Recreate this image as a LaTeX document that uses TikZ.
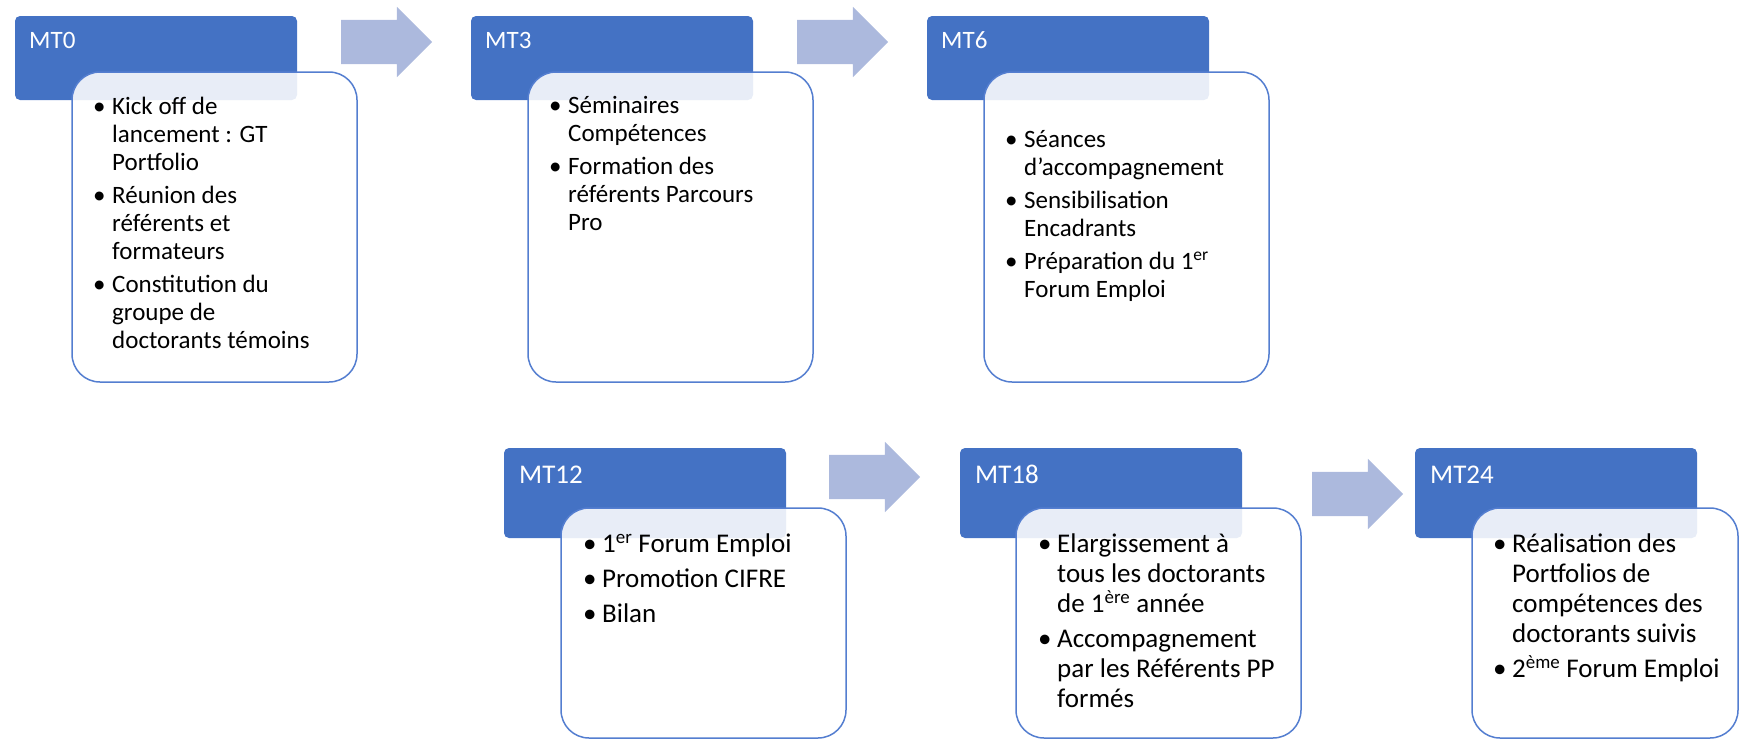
\documentclass[tikz,border=0pt]{standalone}
\usepackage{fontspec}
\setmainfont{Carlito}
\usetikzlibrary{positioning}
\usetikzlibrary{shapes.arrows}
\definecolor{accent}{RGB}{68,114,196}
\definecolor{pale}{RGB}{172,185,221}
\definecolor{edge}{RGB}{84,126,208}
\newcommand{\bul}{\rule{0pt}{22pt}\makebox[19pt][l]{\textbullet}}
\newcommand{\ind}{\hspace*{19pt}}
\tikzset{node distance=174pt, % Gap between two period boxes
phase/.style={ % Dark blue box holding the period
rectangle, rounded corners=5pt,
fill=accent, draw=none,
minimum width=282pt, minimum height=84pt,
anchor=north west, inner sep=0pt, outer sep=0pt},
tall phase/.style={phase, minimum height=90pt},
card/.style={ % White card laid over the period box
rectangle, rounded corners=28pt,
draw=edge, line width=1.5pt,
fill=white, fill opacity=0.88, text opacity=1,
minimum width=285pt, minimum height=310pt,
anchor=north west, inner sep=0pt, outer sep=0pt},
short card/.style={card, minimum height=230pt},
title/.style={text=white, font=\fontsize{25}{28}\selectfont,
anchor=base west, inner sep=0pt},
big title/.style={title, font=\fontsize{27}{30}\selectfont},
tasks/.style={align=left, anchor=north west, inner sep=0pt,
font=\fontsize{25}{28}\selectfont},
big tasks/.style={tasks, font=\fontsize{27}{30}\selectfont},
flow/.style={ % Pale arrow between two periods
single arrow, fill=pale, draw=none,
minimum height=91pt, minimum width=70pt,
inner xsep=0pt, inner ysep=22pt,
single arrow head extend=13pt,
anchor=tail, outer sep=0pt}}
\begin{document}
\begin{tikzpicture}[x=1pt,y=-1pt]
\useasboundingbox (0,0) rectangle (1740,739);
\node[phase] (mt0) at (15,16) {};
\node[phase, right=of mt0] (mt3) {};
\node[phase, right=of mt3] (mt6) {};
\node[tall phase] (mt12) at (504,448) {};
\node[tall phase, right=of mt12] (mt18) {};
\node[tall phase, right=173pt of mt18] (mt24) {};

\node[flow] (a0) at ([xshift=44, yshift=16]mt0.east) {};
\node[flow] (a3) at ([xshift=44, yshift=16]mt3.east) {};
\node[flow] (a12) at ([xshift=43, yshift=16]mt12.east) {};
\node[flow] (a18) at ([xshift=70, yshift=-1]mt18.east) {};

\node[title] (n0) at ([xshift=14, yshift=-32]mt0.north west) {MT0};
\node[title] (n3) at ([xshift=14, yshift=-32]mt3.north west) {MT3};
\node[title] (n6) at ([xshift=14, yshift=-32]mt6.north west) {MT6};
\node[big title] (n12) at ([xshift=15, yshift=-35]mt12.north west) {MT12};
\node[big title] (n18) at ([xshift=15, yshift=-35]mt18.north west) {MT18};
\node[big title] (n24) at ([xshift=15, yshift=-35]mt24.north west) {MT24};

\node[card] (c0) at ([xshift=57, yshift=-56]mt0.north west) {};
\node[card] (c3) at ([xshift=57, yshift=-56]mt3.north west) {};
\node[card] (c6) at ([xshift=57, yshift=-56]mt6.north west) {};
\node[short card] (c12) at ([xshift=57, yshift=-60]mt12.north west) {};
\node[short card] (c18) at ([xshift=56, yshift=-60]mt18.north west) {};
\node[short card, minimum width=266pt] (c24) at ([xshift=57, yshift=-60]mt24.north west) {};

\node[tasks] (t0) at ([xshift=21, yshift=-20]c0.north west)
{\bul Kick off de\\ \ind lancement : GT\\ \ind Portfolio\\[5pt]
\bul Réunion des\\ \ind référents et\\ \ind formateurs\\[5pt]
\bul Constitution du\\ \ind groupe de\\ \ind doctorants témoins};
\node[tasks] (t3) at ([xshift=21, yshift=-19]c3.north west)
{\bul Séminaires\\ \ind Compétences\\[5pt]
\bul Formation des\\ \ind référents Parcours\\ \ind Pro};
\node[tasks] (t6) at ([xshift=21, yshift=-53]c6.north west)
{\bul Séances\\ \ind d’accompagnement\\[5pt]
\bul Sensibilisation\\ \ind Encadrants\\[5pt]
\bul Préparation du 1\textsuperscript{er}\\ \ind Forum Emploi};
\node[big tasks] (t12) at ([xshift=22, yshift=-22]c12.north west)
{\bul 1\textsuperscript{er} Forum Emploi\\[5pt]
\bul Promotion CIFRE\\[5pt]
\bul Bilan};
\node[big tasks] (t18) at ([xshift=22, yshift=-22]c18.north west)
{\bul Elargissement à\\ \ind tous les doctorants\\ \ind de 1\textsuperscript{ère} année\\[5pt]
\bul Accompagnement\\ \ind par les Référents PP\\ \ind formés};
\node[big tasks] (t24) at ([xshift=21, yshift=-22]c24.north west)
{\bul Réalisation des\\ \ind Portfolios de\\ \ind compétences des\\ \ind doctorants suivis\\[5pt]
\bul 2\textsuperscript{ème} Forum Emploi};
\end{tikzpicture}
\end{document}
